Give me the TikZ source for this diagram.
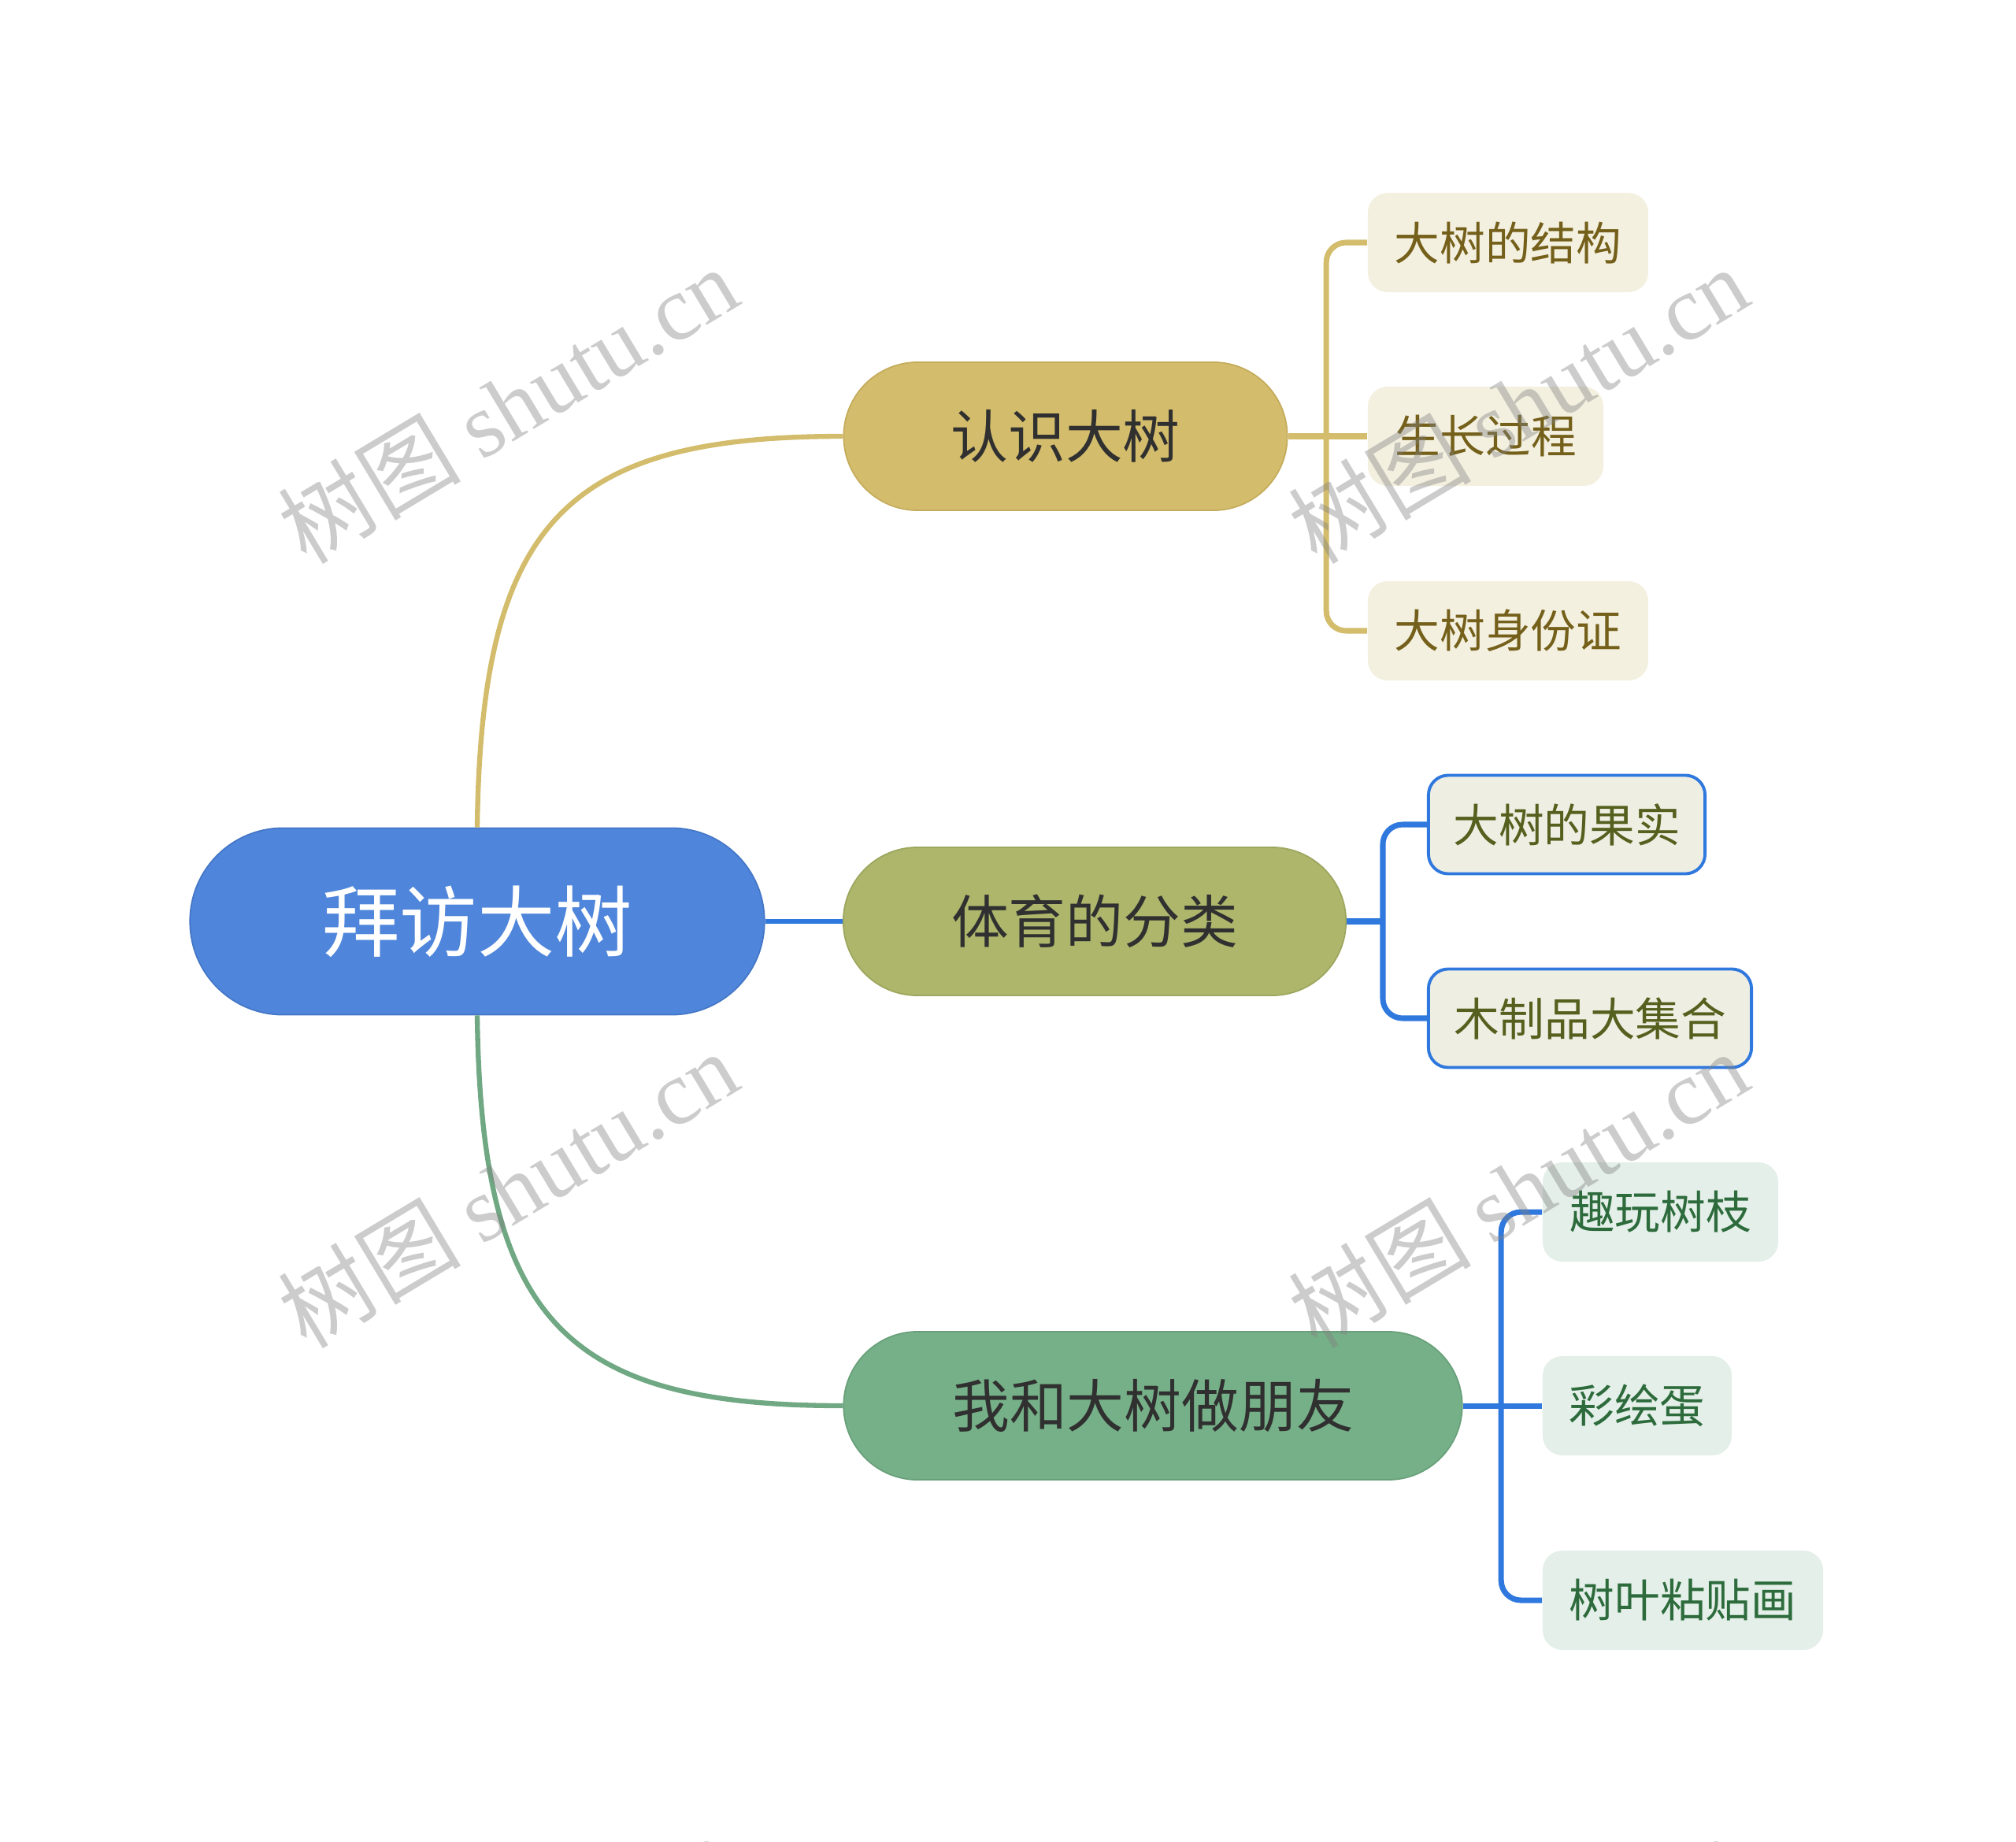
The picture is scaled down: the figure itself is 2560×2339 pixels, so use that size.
\documentclass[tikz,border=0pt]{standalone}
\usepackage{fontspec}
\newfontfamily\cjk{Noto Sans CJK SC}
\newfontfamily\wmlat{Liberation Serif}
\definecolor{rootc}{HTML}{4F86DB}
\definecolor{rootd}{HTML}{4476C6}
\definecolor{goldc}{HTML}{D3BC6B}
\definecolor{goldd}{HTML}{C4AC5C}
\definecolor{olivec}{HTML}{ADB66B}
\definecolor{olived}{HTML}{9DA65E}
\definecolor{greenc}{HTML}{76B088}
\definecolor{greend}{HTML}{68A07A}
\definecolor{bluel}{HTML}{2F78DE}
\definecolor{greenl}{HTML}{6FA882}
\definecolor{leafa}{HTML}{F4F0E0}
\definecolor{leafatext}{HTML}{74601A}
\definecolor{leafb}{HTML}{EEEEE2}
\definecolor{leafbtext}{HTML}{55601E}
\definecolor{leafc}{HTML}{E3EFE8}
\definecolor{leafctext}{HTML}{2D6B3C}
\definecolor{darktext}{HTML}{303030}
\begin{document}
\begin{tikzpicture}[x=0.01cm,y=-0.01cm,
  rootnode/.style={rounded corners=1.18cm, fill=rootc, draw=rootd, line width=0.5pt,
    minimum width=7.29cm, minimum height=2.37cm, inner sep=0pt, text=white,
    font=\cjk\fontsize{28}{28}\selectfont},
  branchnode/.style={rounded corners=0.94cm, line width=0.5pt,
    minimum height=1.88cm, inner sep=0pt, text=darktext,
    font=\cjk\fontsize{20.7}{21}\selectfont},
  leafnode/.style={rounded corners=0.25cm, minimum height=1.26cm, inner sep=0pt,
    font=\cjk\fontsize{16.4}{17}\selectfont},
  leafA/.style={leafnode, fill=leafa, text=leafatext},
  leafB/.style={leafnode, fill=leafb, text=leafbtext, draw=bluel, line width=1.1pt},
  leafC/.style={leafnode, fill=leafc, text=leafctext},
  goldline/.style={draw=goldc, line width=2pt},
  blueline/.style={draw=bluel, line width=2pt},
  watermark/.style={rotate=31, text=black!50, text opacity=0.4,
    font=\fontsize{33}{33}\selectfont}
]
\path[use as bounding box] (0,0) rectangle (2560,2339);
\clip (0,0) rectangle (2560,2339);

% nodes
\node[rootnode] (root) at (606,1170) {拜访大树};
\node[branchnode, fill=goldc, draw=goldd, minimum width=5.63cm] (b1) at (1353,554) {认识大树};
\node[branchnode, fill=olivec, draw=olived, minimum width=6.38cm] (b2) at (1390,1170) {体育的分类};
\node[branchnode, fill=greenc, draw=greend, minimum width=7.85cm] (b3) at (1464,1785) {我和大树做朋友};

\node[leafA, minimum width=3.56cm] (l11) at (1915,308) {大树的结构};
\node[leafA, minimum width=2.99cm] (l12) at (1886.5,554) {生长过程};
\node[leafA, minimum width=3.56cm] (l13) at (1915,801) {大树身份证};

\node[leafB, minimum width=3.51cm, minimum height=1.25cm] (l21) at (1989.5,1047) {大树的果实};
\node[leafB, minimum width=4.10cm, minimum height=1.25cm] (l22) at (2019,1293) {木制品大集合};

\node[leafC, minimum width=2.99cm] (l31) at (2108.5,1539) {趣玩树枝};
\node[leafC, minimum width=2.40cm] (l32) at (2079,1785) {彩绘蛋};
\node[leafC, minimum width=3.56cm] (l33) at (2137,2032) {树叶粘贴画};

% root connectors
\draw[draw=goldc, line width=1.8pt] (root.north) .. controls (611,660) and (720,554) .. (b1.west);
\draw[draw=greenl, line width=1.8pt] (root.south) .. controls (611,1680) and (720,1785) .. (b3.west);
\draw[draw=bluel, line width=1.8pt] (root.east) -- (b2.west);

% group 1
\draw[goldline] (b1.east) -- (l12.west);
\draw[goldline, rounded corners=0.25cm] (l11.west) -- ++(-52,0) |- (l13.west);

% group 2
\coordinate (s2) at (1758,1170);
\draw[blueline] (b2.east) -- (s2);
\draw[blueline, rounded corners=0.25cm] (l21.west) -- ++(-56,0) |- (l22.west);

% group 3
\draw[blueline] (b3.east) -- (l32.west);
\draw[blueline, rounded corners=0.25cm] (l31.west) -- ++(-52,0) |- (l33.west);

% watermarks
\foreach \wx/\wy [count=\i] in {645/514, 1928/514, 645/1510, 1928/1510, 637/2506, 1919/2506} {
  \node[watermark] (wm\i) at (\wx,\wy) {\cjk 树图\ \wmlat shutu.cn};
}
\end{tikzpicture}
\end{document}
